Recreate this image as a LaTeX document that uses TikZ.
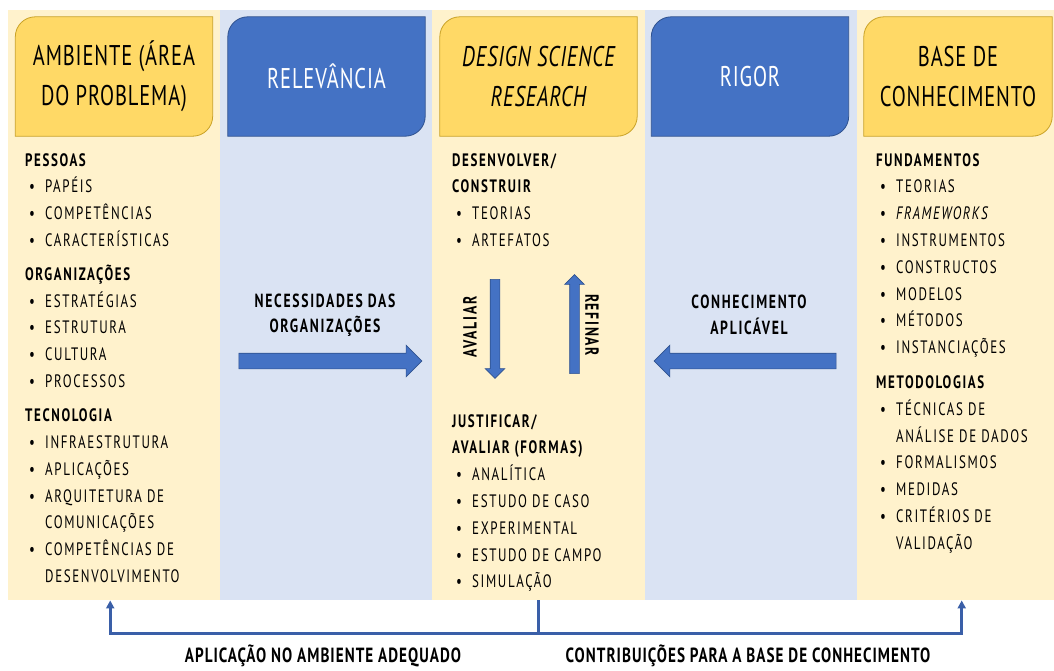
\documentclass[tikz,border=0pt]{standalone}
\usepackage{fontspec}
\setmainfont{PT Sans}[FakeStretch=0.72,LetterSpace=9]
\newfontfamily\hdrfont{PT Sans}[FakeStretch=0.72,LetterSpace=3]
\newfontfamily\botfont{PT Sans}[FakeStretch=0.74,LetterSpace=5]
\usetikzlibrary{shapes.arrows, arrows.meta, positioning, calc, backgrounds}
\definecolor{creambg}{HTML}{FFF2CC}
\definecolor{bluebg}{HTML}{DAE3F3}
\definecolor{goldfill}{HTML}{FFD966}
\definecolor{goldline}{HTML}{C9A227}
\definecolor{bluefill}{HTML}{4472C4}
\definecolor{blueline}{HTML}{2F528F}
\definecolor{connblue}{HTML}{3A5FA8}
\newcommand\itm[1]{\hspace*{4pt}\makebox[16pt][l]{\textbullet}#1}
\newcommand\cont{\hspace*{20pt}}
\tikzset{
  colbg/.style={
    rectangle, draw=none, anchor=north west,
    minimum height=590pt, inner sep=0pt
  },
  hdrbox/.style={
    rectangle, minimum width=197pt, minimum height=119pt,
    align=center, inner sep=0pt,
    font=\hdrfont\fontsize{28.5}{40}\selectfont
  },
  goldbox/.style={fill=goldfill, draw=goldline, line width=0.8pt},
  bluebox/.style={fill=bluefill, draw=blueline, line width=0.8pt},
  listbox/.style={
    anchor=north west, align=left, inner sep=0pt,
    font=\fontsize{18}{26.8}\selectfont
  },
  midlbl/.style={
    align=center, inner sep=0pt,
    font=\bfseries\fontsize{19}{25.5}\selectfont
  },
  blockarr/.style={
    single arrow, fill=bluefill, draw=blueline, line width=0.6pt,
    single arrow tip angle=90
  },
  conn/.style={
    draw=connblue, line width=2.6pt
  },
  botlbl/.style={
    inner sep=0pt, font=\botfont\bfseries\fontsize{20.5}{24}\selectfont
  },
}
\begin{document}
\begin{tikzpicture}[x=1pt, y=-1pt]
  \useasboundingbox (0,0) rectangle (1054,670);

  % column bands
  \begin{scope}[on background layer]
    \foreach \nm/\x/\w/\c in {colenv/8/212/creambg, colrel/220/212/bluebg,
        coldsr/432/213/creambg, colrig/645/212/bluebg, colkb/857/197/creambg}
      \node[colbg, fill=\c, minimum width=\w pt] (\nm) at (\x,10) {};
  \end{scope}

  % headers
  \node[hdrbox] (amb) at (114,76.5) {AMBIENTE (ÁREA\\DO PROBLEMA)};
  \node[hdrbox, text=white] (rel) at (326.5,76.5) {RELEVÂNCIA};
  \node[hdrbox] (dsr) at (538.5,76.5) {\itshape DESIGN SCIENCE\\\itshape RESEARCH};
  \node[hdrbox, text=white] (rig) at (750,76.5) {RIGOR};
  \node[hdrbox, minimum width=188pt] (kb) at (958,76.5) {BASE DE\\CONHECIMENTO};

  \begin{scope}[on background layer]
    \foreach \n/\s in {amb/goldbox, rel/bluebox, dsr/goldbox, rig/bluebox, kb/goldbox}
      \draw[\s] (\n.south west) -- ([yshift=-20pt]\n.north west)
        arc[start angle=180, end angle=90, radius=20pt] -- (\n.north east)
        -- ([yshift=20pt]\n.south east)
        arc[start angle=0, end angle=-90, radius=20pt] -- cycle;
  \end{scope}

  % lists
  \node[listbox] (envlist) at (25,153) {%
    \textbf{PESSOAS}\\
    \itm{PAPÉIS}\\
    \itm{COMPETÊNCIAS}\\
    \itm{CARACTERÍSTICAS}\\[7pt]
    \textbf{ORGANIZAÇÕES}\\
    \itm{ESTRATÉGIAS}\\
    \itm{ESTRUTURA}\\
    \itm{CULTURA}\\
    \itm{PROCESSOS}\\[7.5pt]
    \textbf{TECNOLOGIA}\\
    \itm{INFRAESTRUTURA}\\
    \itm{APLICAÇÕES}\\
    \itm{ARQUITETURA DE}\\
    \cont COMUNICAÇÕES\\
    \itm{COMPETÊNCIAS DE}\\
    \cont DESENVOLVIMENTO};
  \node[listbox] (buildlist) at (452,153) {%
    \textbf{DESENVOLVER/}\\
    \textbf{CONSTRUIR}\\
    \itm{TEORIAS}\\
    \itm{ARTEFATOS}};
  \node[listbox] (evallist) at (452,414) {%
    \textbf{JUSTIFICAR/}\\
    \textbf{AVALIAR (FORMAS)}\\
    \itm{ANALÍTICA}\\
    \itm{ESTUDO DE CASO}\\
    \itm{EXPERIMENTAL}\\
    \itm{ESTUDO DE CAMPO}\\
    \itm{SIMULAÇÃO}};
  \node[listbox] (kblist) at (876,153) {%
    \textbf{FUNDAMENTOS}\\
    \itm{TEORIAS}\\
    \itm{\textit{FRAMEWORKS}}\\
    \itm{INSTRUMENTOS}\\
    \itm{CONSTRUCTOS}\\
    \itm{MODELOS}\\
    \itm{MÉTODOS}\\
    \itm{INSTANCIAÇÕES}\\[8pt]
    \textbf{METODOLOGIAS}\\
    \itm{TÉCNICAS DE}\\
    \cont ANÁLISE DE DADOS\\
    \itm{FORMALISMOS}\\
    \itm{MEDIDAS}\\
    \itm{CRITÉRIOS DE}\\
    \cont VALIDAÇÃO};

  % flows between columns
  \node[midlbl] (needlbl) at (325,315) {NECESSIDADES DAS\\ORGANIZAÇÕES};
  \node[blockarr, minimum height=183pt, minimum width=31pt,
    inner xsep=0pt, inner ysep=7.5pt,
    single arrow head extend=8pt] (needarr) at (326.5,361) {};
  \node[midlbl] (knowlbl) at (749,315) {CONHECIMENTO\\APLICÁVEL};
  \node[blockarr, minimum height=182pt, minimum width=31pt,
    inner xsep=0pt, inner ysep=7.5pt,
    single arrow head extend=8pt, shape border rotate=180] (knowarr) at (749,361) {};

  % build / evaluate loop
  \node[blockarr, minimum height=99pt, minimum width=19pt,
    inner xsep=4.5pt, inner ysep=0pt,
    single arrow head extend=5pt, shape border rotate=270] (evalarr) at (495,326.5) {};
  \node[blockarr, minimum height=99pt, minimum width=19pt,
    inner xsep=4.5pt, inner ysep=0pt,
    single arrow head extend=5pt, shape border rotate=90] (refarr) at (574.5,326.5) {};
  \node[midlbl, rotate=90] (evallbl) at (470,327) {AVALIAR};
  \node[midlbl, rotate=-90] (reflbl) at (592,325) {REFINAR};

  % feedback to both sides
  \draw[conn] (coldsr.south) -- ++(0,33) coordinate (split);
  \draw[conn, -{Triangle[length=8pt,width=8pt]}] (split) -| ([xshift=-4pt]colenv.south);
  \draw[conn, -{Triangle[length=8pt,width=8pt]}] (split) -| ([xshift=6pt]colkb.south);
  \node[botlbl] (applbl) at (323,656) {APLICAÇÃO NO AMBIENTE ADEQUADO};
  \node[botlbl] (contlbl) at (748,656) {CONTRIBUIÇÕES PARA A BASE DE CONHECIMENTO};
\end{tikzpicture}
\end{document}
